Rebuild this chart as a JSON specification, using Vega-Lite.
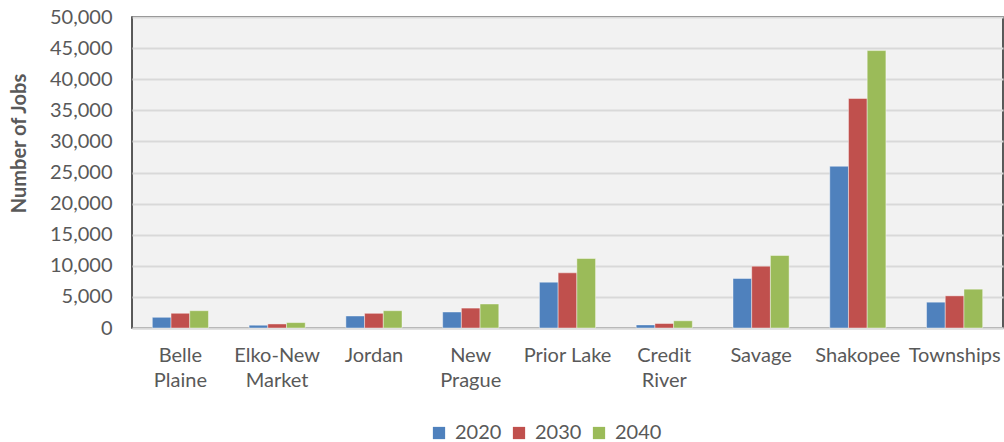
{
  "$schema": "https://vega.github.io/schema/vega-lite/v6.json",
  "autosize": {"type": "none"},
  "padding": {"left": 132, "top": 17, "right": 1, "bottom": 114},
  "width": 871,
  "height": 311,
  "background": "#ffffff",
  "config": {
    "font": "Lato",
    "view": {"fill": "#f2f2f2", "stroke": "#262626", "strokeWidth": 1.5}
  },
  "data": {
    "values": [
      {"area": "Belle Plaine", "year": "2020", "jobs": 1720},
      {"area": "Belle Plaine", "year": "2030", "jobs": 2360},
      {"area": "Belle Plaine", "year": "2040", "jobs": 2780},
      {"area": "Elko-New Market", "year": "2020", "jobs": 450},
      {"area": "Elko-New Market", "year": "2030", "jobs": 650},
      {"area": "Elko-New Market", "year": "2040", "jobs": 870},
      {"area": "Jordan", "year": "2020", "jobs": 1930},
      {"area": "Jordan", "year": "2030", "jobs": 2360},
      {"area": "Jordan", "year": "2040", "jobs": 2780},
      {"area": "New Prague", "year": "2020", "jobs": 2570},
      {"area": "New Prague", "year": "2030", "jobs": 3200},
      {"area": "New Prague", "year": "2040", "jobs": 3860},
      {"area": "Prior Lake", "year": "2020", "jobs": 7360},
      {"area": "Prior Lake", "year": "2030", "jobs": 8870},
      {"area": "Prior Lake", "year": "2040", "jobs": 11170},
      {"area": "Credit River", "year": "2020", "jobs": 500},
      {"area": "Credit River", "year": "2030", "jobs": 720},
      {"area": "Credit River", "year": "2040", "jobs": 1160},
      {"area": "Savage", "year": "2020", "jobs": 7960},
      {"area": "Savage", "year": "2030", "jobs": 9940},
      {"area": "Savage", "year": "2040", "jobs": 11660},
      {"area": "Shakopee", "year": "2020", "jobs": 26000},
      {"area": "Shakopee", "year": "2030", "jobs": 36900},
      {"area": "Shakopee", "year": "2040", "jobs": 44600},
      {"area": "Townships", "year": "2020", "jobs": 4150},
      {"area": "Townships", "year": "2030", "jobs": 5170},
      {"area": "Townships", "year": "2040", "jobs": 6240}
    ]
  },
  "mark": {"type": "bar", "stroke": "#ffffff", "strokeWidth": 0.6, "strokeOpacity": 0.7},
  "encoding": {
    "x": {
      "field": "area",
      "type": "nominal",
      "sort": null,
      "scale": {"paddingInner": 0.42, "paddingOuter": 0.21},
      "axis": {
        "title": null,
        "labelAngle": 0,
        "labelFontSize": 20,
        "labelColor": "#595959",
        "labelPadding": 17,
        "labelLineHeight": 25,
        "labelBaseline": "top",
        "labelLimit": 200,
        "labelOverlap": false,
        "ticks": false,
        "domainColor": "#d9d9d9",
        "domainWidth": 2,
        "labelExpr": "indexof(['Belle Plaine','New Prague','Credit River'], datum.value) >= 0 ? split(datum.value, ' ') : datum.value == 'Elko-New Market' ? ['Elko-New','Market'] : datum.value"
      }
    },
    "xOffset": {"field": "year", "type": "nominal"},
    "y": {
      "field": "jobs",
      "type": "quantitative",
      "scale": {"domain": [0, 50000], "nice": false},
      "axis": {
        "title": "Number of Jobs",
        "titleFontSize": 20,
        "titleFontWeight": "bold",
        "titleColor": "#595959",
        "titleAngle": -90,
        "titleX": -113,
        "titleY": 126,
        "titleAlign": "center",
        "titleBaseline": "middle",
        "values": [0, 5000, 10000, 15000, 20000, 25000, 30000, 35000, 40000, 45000, 50000],
        "format": ",.0f",
        "labelFontSize": 20,
        "labelColor": "#595959",
        "labelPadding": 20,
        "ticks": false,
        "domain": false,
        "gridColor": "#d9d9d9",
        "gridWidth": 2
      }
    },
    "color": {
      "field": "year",
      "type": "nominal",
      "scale": {"domain": ["2020", "2030", "2040"], "range": ["#4f81bd", "#c0504d", "#9bbb59"]},
      "legend": {
        "title": null,
        "orient": "none",
        "direction": "horizontal",
        "legendX": 297,
        "legendY": 406,
        "symbolType": "square",
        "symbolSize": 150,
        "symbolStrokeWidth": 0,
        "labelFontSize": 20,
        "labelColor": "#595959",
        "labelOffset": 6,
        "columnPadding": 7
      }
    }
  }
}
